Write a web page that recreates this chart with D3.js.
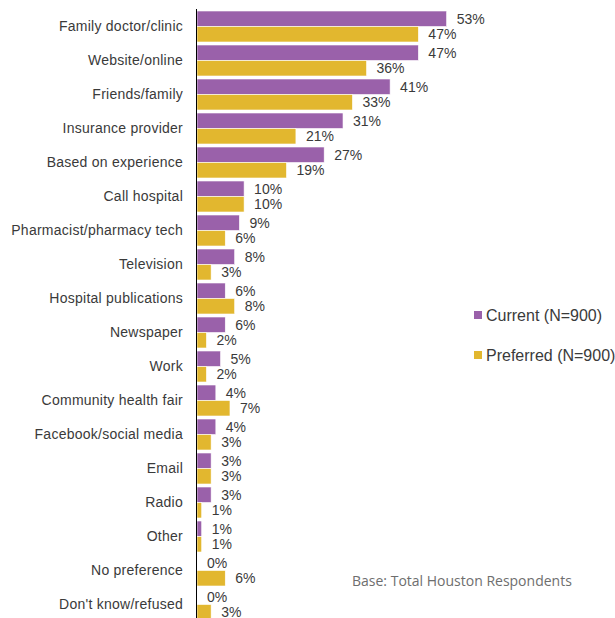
<!DOCTYPE html>
<html>
<head>
<meta charset="utf-8">
<script src="https://cdn.jsdelivr.net/npm/d3@7"></script>
<style>
    body { margin: 0; background: #fff; }
    svg { display: block; }
    text { font-family: "Liberation Sans", Arial, sans-serif; fill: #3a3a3a; }
</style>
</head>
<body>
<svg width="615" height="618"></svg>
<script>
const categories = ["Family doctor/clinic", "Website/online", "Friends/family", "Insurance provider",
    "Based on experience", "Call hospital", "Pharmacist/pharmacy tech", "Television",
    "Hospital publications", "Newspaper", "Work", "Community health fair",
    "Facebook/social media", "Email", "Radio", "Other", "No preference", "Don't know/refused"];
const current = [53, 47, 41, 31, 27, 10, 9, 8, 6, 6, 5, 4, 4, 3, 3, 1, 0, 0];
const preferred = [47, 36, 33, 21, 19, 10, 6, 3, 8, 2, 2, 7, 3, 3, 1, 1, 6, 3];
const seriesNames = ["Current (N=900)", "Preferred (N=900)"];
const colors = ["#9a61aa", "#e2b72f"];
const baseNote = "Base: Total Houston Respondents";

const svg = d3.select("svg");

const x = d3.scaleLinear().domain([0, 100]).range([196, 667]);

const y = d3.scaleBand()
    .domain(categories)
    .range([9.5, 621.5])
    .paddingInner(3 / 34)
    .paddingOuter(1.5 / 34);

const ySub = d3.scaleBand()
    .domain([0, 1])
    .range([0, y.bandwidth()]);

const color = d3.scaleOrdinal().domain([0, 1]).range(colors);

const rows = categories.map((c, i) => ({ cat: c, vals: [current[i], preferred[i]] }));

// category labels
svg.append("g")
    .selectAll("text")
    .data(categories)
    .enter().append("text")
    .attr("x", 183)
    .attr("y", d => y(d) + y.bandwidth() / 2)
    .attr("dy", "0.35em")
    .attr("text-anchor", "end")
    .style("font-size", "14px")
    .style("letter-spacing", "0.25px")
    .text(d => d);

const group = svg.append("g")
    .selectAll("g")
    .data(rows)
    .enter().append("g")
    .attr("transform", d => `translate(0,${y(d.cat)})`);

group.selectAll("rect")
    .data(d => d.vals.map((v, k) => ({ v, k })))
    .enter().append("rect")
    .attr("x", x(0) + 1)
    .attr("y", d => ySub(d.k))
    .attr("width", d => Math.max(0, x(d.v) - x(0)))
    .attr("height", ySub.bandwidth())
    .attr("fill", d => color(d.k))
    .attr("stroke", "#fff")
    .attr("stroke-width", 0.6);

group.selectAll("text")
    .data(d => d.vals.map((v, k) => ({ v, k })))
    .enter().append("text")
    .attr("x", d => x(d.v) + 11)
    .attr("y", d => ySub(d.k) + ySub.bandwidth() / 2)
    .attr("dy", "0.35em")
    .style("font-size", "14px")
    .text(d => d.v + "%");

// axis line
svg.append("line")
    .attr("x1", 196.5).attr("x2", 196.5)
    .attr("y1", 9).attr("y2", 618)
    .attr("stroke", "#000")
    .attr("stroke-width", 1);

// legend
const legend = svg.append("g")
    .selectAll("g")
    .data(seriesNames)
    .enter().append("g")
    .attr("transform", (d, i) => `translate(474,${315 + i * 40})`);

legend.append("rect")
    .attr("x", 0).attr("y", -4)
    .attr("width", 8).attr("height", 8)
    .attr("fill", (d, i) => colors[i]);

legend.append("text")
    .attr("x", 12)
    .attr("dy", "0.35em")
    .style("font-size", "16px")
    .text(d => d);

svg.append("text")
    .attr("x", 352)
    .attr("y", 581)
    .attr("dy", "0.35em")
    .style("font-family", "'Open Sans', sans-serif")
    .style("font-size", "14px")
    .style("fill", "#6e6e6e")
    .text(baseNote);
</script>
</body>
</html>
